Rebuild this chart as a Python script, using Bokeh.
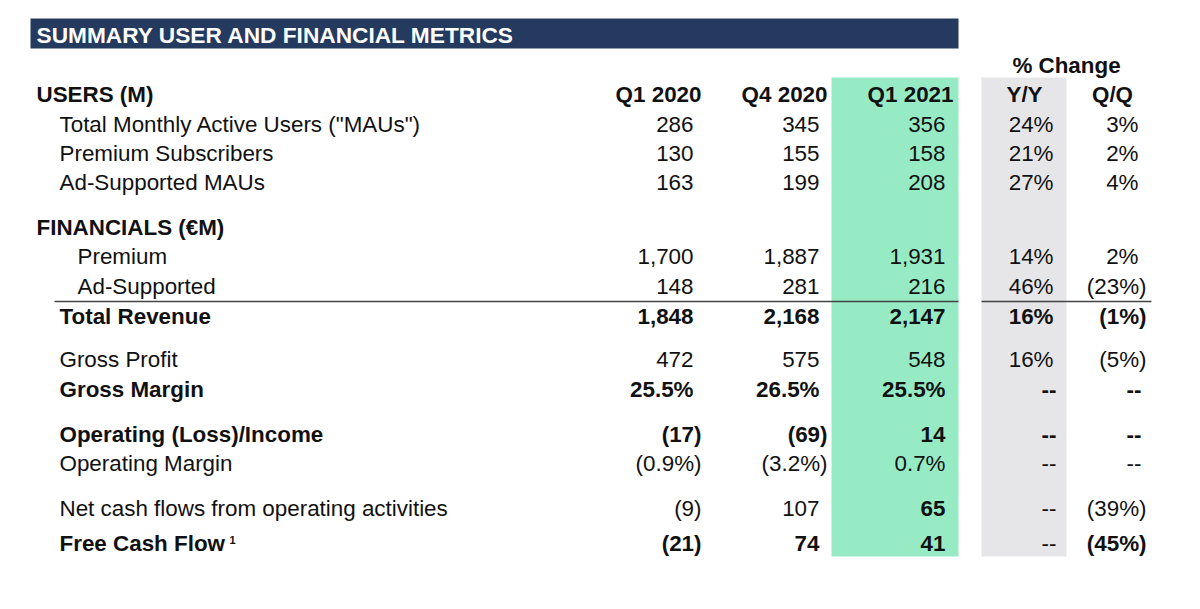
from bokeh.plotting import figure
from bokeh.models import Range1d, ColumnDataSource
from bokeh.core.properties import value
from bokeh.embed import file_html
from bokeh.resources import INLINE

# ---------------- data ----------------
title = "SUMMARY USER AND FINANCIAL METRICS"
sections = ["USERS (M)", "FINANCIALS (€M)"]
periods = ["Q1 2020", "Q4 2020", "Q1 2021"]
change_cols = ["Y/Y", "Q/Q"]
change_title = "% Change"

metrics = ['Total Monthly Active Users ("MAUs")', "Premium Subscribers", "Ad-Supported MAUs",
           "Premium", "Ad-Supported", "Total Revenue", "Gross Profit", "Gross Margin",
           "Operating (Loss)/Income", "Operating Margin",
           "Net cash flows from operating activities", "Free Cash Flow"]
q1_2020 = [286, 130, 163, 1700, 148, 1848, 472, 25.5, -17, -0.9, -9, -21]
q4_2020 = [345, 155, 199, 1887, 281, 2168, 575, 26.5, -69, -3.2, 107, 74]
q1_2021 = [356, 158, 208, 1931, 216, 2147, 548, 25.5, 14, 0.7, 65, 41]
yoy = [24, 21, 27, 14, 46, 16, 16, None, None, None, None, None]
qoq = [3, 2, 4, 2, -23, -1, -5, None, None, None, -39, -45]
percent_rows = ["Gross Margin", "Operating Margin"]

# ---------------- layout / style ----------------
FONT = value("Liberation Sans")
FS = "22.4px"
INK = "#111111"
row_y = [125, 154, 183, 257, 287, 317, 360, 390, 435, 464, 509, 544]
section_y = [95, 228]
label_x = [60, 60, 60, 78, 78, 60, 60, 60, 60, 60, 60, 60]
row_bold = [False, False, False, False, False, True, False, True, True, False, False, True]
# (row, column) -> bold override ; columns 0..4 = Q1'20, Q4'20, Q1'21, Y/Y, Q/Q
cell_bold = {(10, 2): True, (11, 3): False, (9, 3): False, (9, 4): False}
col_right = [702, 828, 954, 1062, 1147]
header_y = 95


def fmt(v, pct=False, dec=0):
    if v is None:
        return "--"
    s = f"{abs(v):,.{dec}f}" + ("%" if pct else "")
    return f"({s})" if v < 0 else s


p = figure(width=1184, height=593, x_range=Range1d(1, 1185), y_range=Range1d(594, 1),
           output_backend="svg", toolbar_location=None, min_border=0)
p.axis.visible = False
p.grid.visible = False
p.outline_line_color = None
p.background_fill_color = "white"
p.border_fill_color = "white"

# background bands
p.quad(left=[31], right=[959], top=[19], bottom=[49], fill_color="#243a5e", line_color=None)
p.quad(left=[832], right=[959], top=[78], bottom=[557], fill_color="#96ebc4", line_color=None)
p.quad(left=[982], right=[1067], top=[78], bottom=[557], fill_color="#e6e6e8", line_color=None)

# rule above Total Revenue
ti = metrics.index("Total Revenue")
ry = (row_y[ti - 1] + row_y[ti]) / 2
p.segment(x0=[55, 982], x1=[959, 1152], y0=[ry, ry], y1=[ry, ry], line_color="#444444", line_width=1.5)

# title
p.text(x=[37], y=[35], text=[title], text_font=FONT, text_font_size="22.7px", text_font_style="bold",
       text_color="white", text_baseline="middle", text_align="left")

# section headers
p.text(x=[37] * len(sections), y=section_y, text=sections, text_font=FONT, text_font_size=FS,
       text_font_style="bold", text_color=INK, text_baseline="middle", text_align="left")

# column headers
p.text(x=col_right[:3], y=[header_y] * 3, text=periods, text_font=FONT, text_font_size=FS,
       text_font_style="bold", text_color=INK, text_baseline="middle", text_align="right")
p.text(x=[1025, 1113], y=[header_y] * 2, text=change_cols, text_font=FONT, text_font_size=FS,
       text_font_style="bold", text_color=INK, text_baseline="middle", text_align="center")
p.text(x=[1067], y=[66], text=[change_title], text_font=FONT, text_font_size=FS,
       text_font_style="bold", text_color=INK, text_baseline="middle", text_align="center")

# row labels
for bold in (False, True):
    idx = [i for i in range(len(metrics)) if row_bold[i] == bold]
    src = ColumnDataSource(dict(x=[label_x[i] for i in idx], y=[row_y[i] for i in idx],
                                t=[metrics[i] for i in idx]))
    p.text(x="x", y="y", text="t", source=src, text_font=FONT, text_font_size=FS,
           text_font_style="bold" if bold else "normal", text_color=INK,
           text_baseline="middle", text_align="left")

# footnote marker
fcf = metrics.index("Free Cash Flow")
p.text(x=[230], y=[row_y[fcf] - 4], text=["1"], text_font=FONT, text_font_size="11px",
       text_font_style="bold", text_color=INK, text_baseline="middle", text_align="left")

# values
columns = [q1_2020, q4_2020, q1_2021, yoy, qoq]
cells = {False: dict(x=[], y=[], t=[]), True: dict(x=[], y=[], t=[])}
for c, col in enumerate(columns):
    for r, v in enumerate(col):
        pct = c >= 3 or metrics[r] in percent_rows
        dec = 1 if (c < 3 and metrics[r] in percent_rows) else 0
        s = fmt(v, pct, dec)
        if s.endswith(")"):
            x = col_right[c]
        elif s == "--":
            x = col_right[c] - 5
        else:
            x = col_right[c] - 8
        b = cell_bold.get((r, c), row_bold[r])
        cells[b]["x"].append(x)
        cells[b]["y"].append(row_y[r])
        cells[b]["t"].append(s)

for b, d in cells.items():
    p.text(x="x", y="y", text="t", source=ColumnDataSource(d), text_font=FONT, text_font_size=FS,
           text_font_style="bold" if b else "normal", text_color=INK,
           text_baseline="middle", text_align="right")

open("out.html", "w").write(file_html(p, INLINE))
